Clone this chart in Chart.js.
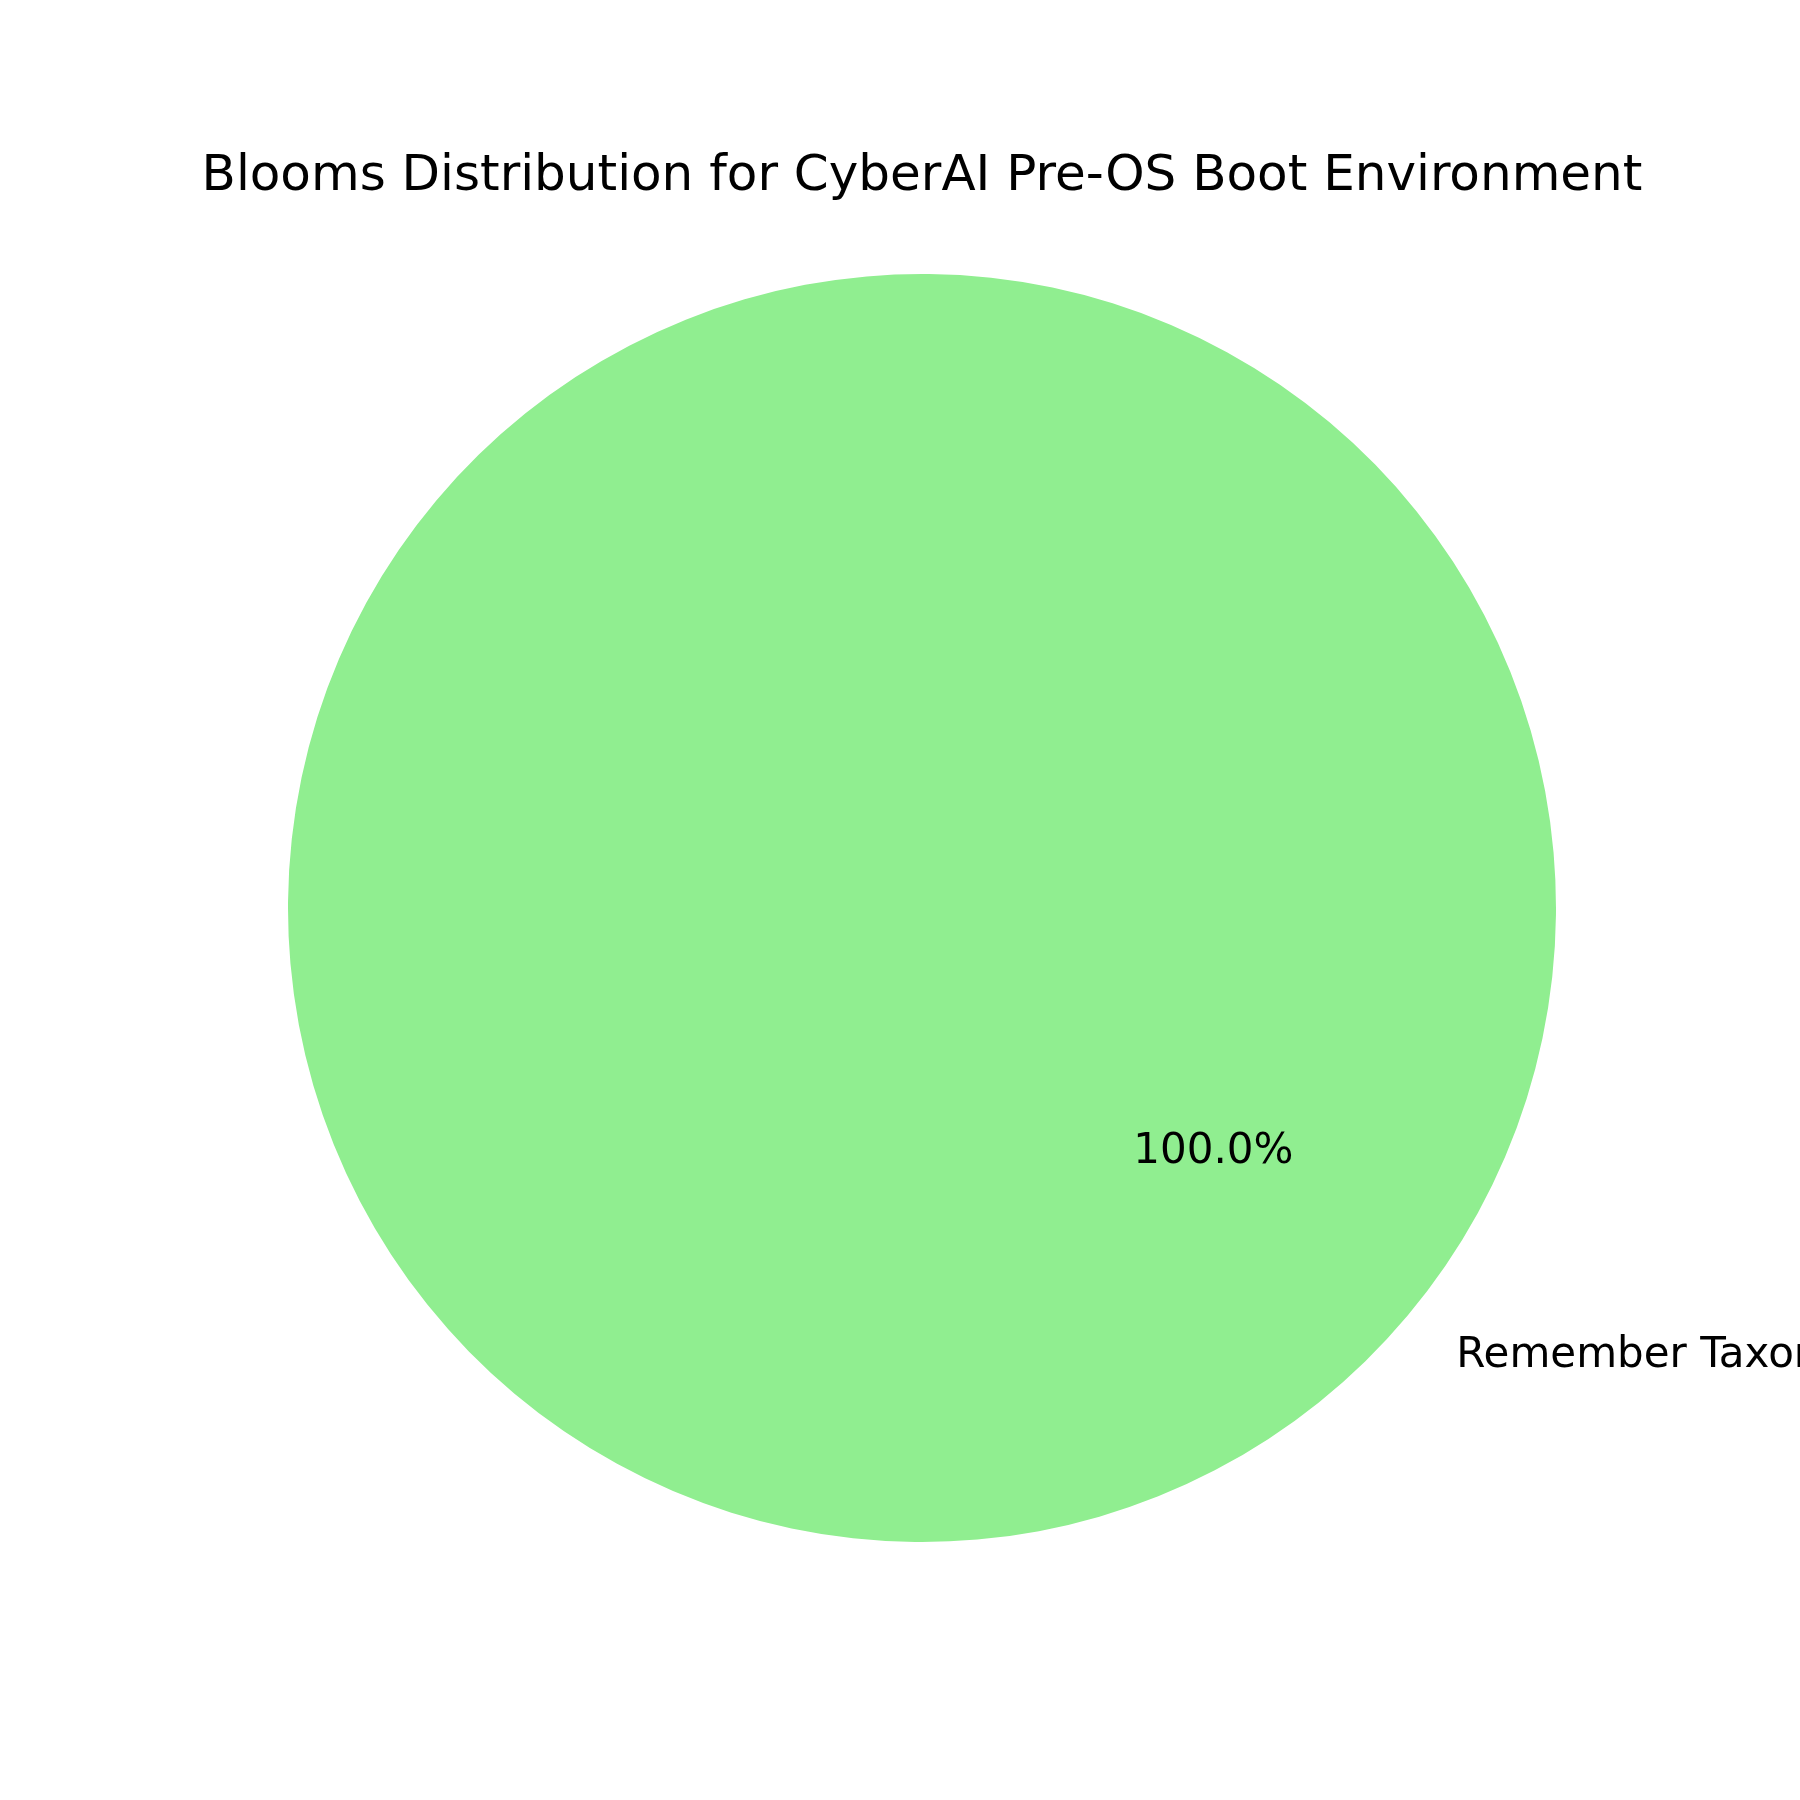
<!DOCTYPE html>
<html>
<head>
<meta charset="utf-8">
<script src="https://cdn.jsdelivr.net/npm/chart.js@4"></script>
<style>
  html, body { margin: 0; padding: 0; background: #fff; }
  #wrap { width: 1800px; height: 1800px; position: relative; }
</style>
</head>
<body>
<div id="wrap"><canvas id="blooms"></canvas></div>
<script>
const categories = ['Remember Taxonomy'];
const counts = [1];
const sliceColors = ['#90EE90'];
const chartTitle = 'Blooms Distribution for CyberAI Pre-OS Boot Environment';

const fontFamily = "'DejaVu Sans', sans-serif";

// draws title, percentages inside and category labels outside, matplotlib style
const pieText = {
  id: 'pieText',
  afterDraw(chart) {
    const c = chart.ctx;
    const meta = chart.getDatasetMeta(0);
    const total = counts.reduce((a, b) => a + b, 0);
    c.save();
    c.fillStyle = '#000';
    c.font = `50px ${fontFamily}`;
    c.textAlign = 'center';
    c.textBaseline = 'alphabetic';
    c.fillText(chartTitle, 922, 190);

    meta.data.forEach((arc, i) => {
      const mid = (arc.startAngle + arc.endAngle) / 2;
      const r = arc.outerRadius;
      const pct = (counts[i] / total * 100).toFixed(1) + '%';
      c.font = `42px ${fontFamily}`;
      c.textBaseline = 'middle';
      c.textAlign = 'center';
      c.fillText(pct, arc.x + Math.cos(mid) * r * 0.6, arc.y + Math.sin(mid) * r * 0.6);
      const lx = arc.x + Math.cos(mid) * r * 1.1;
      const ly = arc.y + Math.sin(mid) * r * 1.1;
      c.textAlign = Math.cos(mid) >= 0 ? 'left' : 'right';
      c.fillText(categories[i], lx, ly);
    });
    c.restore();
  },
};

new Chart(document.getElementById('blooms'), {
  type: 'pie',
  data: {
    labels: categories,
    datasets: [
      {
        data: counts,
        backgroundColor: sliceColors,
        borderWidth: 0,
      },
    ],
  },
  options: {
    responsive: true,
    maintainAspectRatio: false,
    animation: false,
    rotation: -50,
    layout: {
      padding: { left: 288, right: 244, top: 274, bottom: 258 },
    },
    plugins: {
      legend: { display: false },
      tooltip: { enabled: false },
      title: { display: false },
    },
  },
  plugins: [pieText],
});
</script>
</body>
</html>
